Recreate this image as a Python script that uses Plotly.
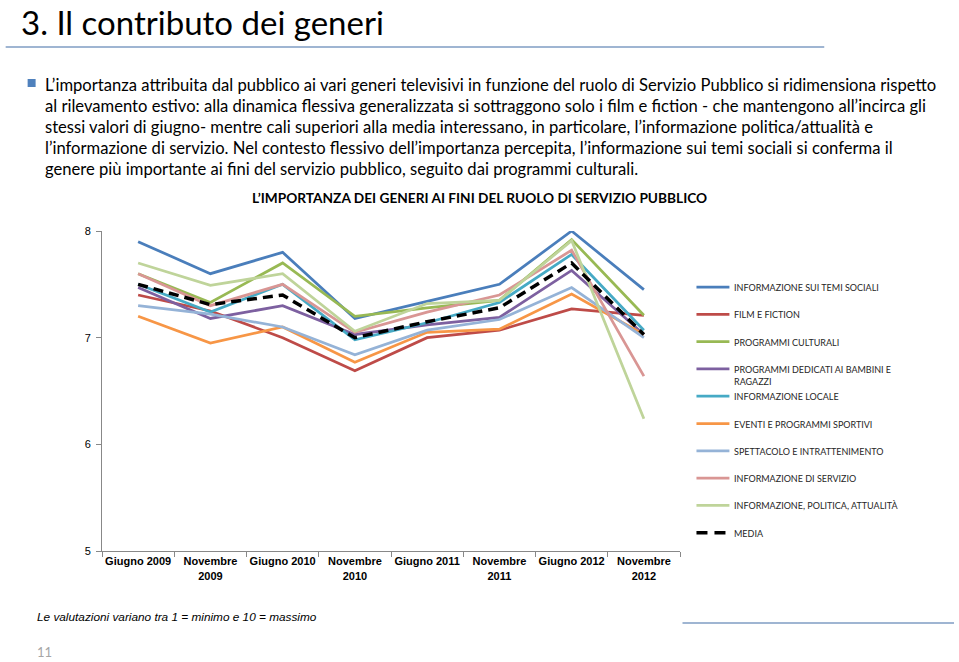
import plotly.graph_objects as go

W, H = 959, 662
PL, PR, PT, PB = 101.5, 680.5, 231, 551

categories = ["Giugno 2009", "Novembre<br>2009", "Giugno 2010", "Novembre<br>2010",
              "Giugno 2011", "Novembre<br>2011", "Giugno 2012", "Novembre<br>2012"]

temi_sociali = [7.90, 7.60, 7.80, 7.18, 7.34, 7.50, 8.00, 7.45]
film_fiction = [7.40, 7.25, 7.00, 6.69, 7.00, 7.07, 7.27, 7.21]
culturali = [7.60, 7.33, 7.70, 7.20, 7.28, 7.35, 7.92, 7.21]
bambini = [7.47, 7.18, 7.30, 7.03, 7.12, 7.19, 7.63, 7.03]
locale = [7.50, 7.24, 7.50, 6.98, 7.14, 7.33, 7.78, 7.07]
sportivi = [7.20, 6.95, 7.10, 6.77, 7.05, 7.08, 7.41, 7.03]
spettacolo = [7.30, 7.22, 7.10, 6.84, 7.07, 7.17, 7.47, 7.00]
servizio = [7.60, 7.30, 7.50, 7.05, 7.24, 7.40, 7.82, 6.64]
politica = [7.70, 7.49, 7.60, 7.06, 7.32, 7.35, 7.91, 6.24]
media = [7.50, 7.31, 7.40, 7.00, 7.15, 7.28, 7.70, 7.03]

series_names = ["INFORMAZIONE SUI TEMI SOCIALI", "FILM E FICTION", "PROGRAMMI CULTURALI",
                "PROGRAMMI DEDICATI AI BAMBINI E<br>RAGAZZI", "INFORMAZIONE LOCALE",
                "EVENTI E PROGRAMMI SPORTIVI", "SPETTACOLO E INTRATTENIMENTO",
                "INFORMAZIONE DI SERVIZIO", "INFORMAZIONE, POLITICA, ATTUALITÀ", "MEDIA"]
series_values = [temi_sociali, film_fiction, culturali, bambini, locale,
                 sportivi, spettacolo, servizio, politica, media]
colors = ["#4A7EBB", "#BE4B48", "#98B954", "#7D60A0", "#46AAC5",
          "#F79646", "#95B3D7", "#D99694", "#BFD49A", "#000000"]

y_ticks = [5, 6, 7, 8]

paragraph = [
    "L’importanza attribuita dal pubblico ai vari generi televisivi in funzione del ruolo di Servizio Pubblico si ridimensiona rispetto",
    "al rilevamento estivo: alla dinamica flessiva generalizzata si sottraggono solo i film e fiction - che mantengono all’incirca gli",
    "stessi valori di giugno- mentre cali superiori alla media interessano, in particolare, l’informazione politica/attualità e",
    "l’informazione di servizio. Nel contesto flessivo dell’importanza percepita, l’informazione sui temi sociali si conferma il",
    "genere più importante ai fini del servizio pubblico, seguito dai programmi culturali.",
]


def px(x):
    return (x - PL) / (PR - PL)


def py(y):
    return (PB - y) / (PB - PT)


fig = go.Figure()
for name, vals, col in zip(series_names, series_values, colors):
    is_media = name == "MEDIA"
    fig.add_trace(go.Scatter(
        x=categories, y=vals, mode="lines", name=name.replace("<br>", " "),
        line=dict(color=col, width=3.5 if is_media else 2.75,
                  dash="10px,6px" if is_media else "solid"),
        showlegend=False,
    ))

shapes = []
annotations = []

# manual legend
leg_y0, leg_dy = 287, 27.3
for i, (name, col) in enumerate(zip(series_names, colors)):
    yy = leg_y0 + i * leg_dy
    if name == "MEDIA":
        shapes.append(dict(type="line", xref="paper", yref="paper",
                           x0=px(697), x1=px(730), y0=py(yy), y1=py(yy),
                           line=dict(color=col, width=3.5, dash="11px,7px")))
    else:
        shapes.append(dict(type="line", xref="paper", yref="paper",
                           x0=px(697), x1=px(730), y0=py(yy), y1=py(yy),
                           line=dict(color=col, width=2.75)))
    annotations.append(dict(xref="paper", yref="paper", x=px(733), y=py(yy - 7),
                            xanchor="left", yanchor="top", align="left",
                            text=name, showarrow=False,
                            font=dict(family="Lato", size=9, color="#262626")))

# page title
annotations.append(dict(xref="paper", yref="paper", x=px(19), y=py(0.5),
                        xanchor="left", yanchor="top", text="3. Il contributo dei generi",
                        showarrow=False, borderpad=0,
                        font=dict(family="Lato", size=33, color="#000000")))
shapes.append(dict(type="line", xref="paper", yref="paper", x0=px(5), x1=px(825),
                   y0=py(47), y1=py(47), line=dict(color="#7F9DC3", width=1.5)))
shapes.append(dict(type="line", xref="paper", yref="paper", x0=px(683), x1=px(955),
                   y0=py(623), y1=py(623), line=dict(color="#7F9DC3", width=1.5)))
# bullet
shapes.append(dict(type="rect", xref="paper", yref="paper", x0=px(27), x1=px(35),
                   y0=py(87), y1=py(79), line=dict(width=0), fillcolor="#4F81BD"))

para_y = [85, 106, 127, 148, 169]
for line, yy in zip(paragraph, para_y):
    annotations.append(dict(xref="paper", yref="paper", x=px(42), y=py(yy),
                            xanchor="left", yanchor="middle", text=line, showarrow=False,
                            font=dict(family="Lato", size=16.6, color="#000000")))

annotations.append(dict(xref="paper", yref="paper", x=px(480), y=py(197),
                        xanchor="center", yanchor="middle",
                        text="<b>L’IMPORTANZA DEI GENERI AI FINI DEL RUOLO DI SERVIZIO PUBBLICO</b>",
                        showarrow=False, font=dict(family="Lato", size=13.7, color="#000000")))

annotations.append(dict(xref="paper", yref="paper", x=px(34), y=py(617),
                        xanchor="left", yanchor="middle",
                        text="<i>Le valutazioni variano tra 1 = minimo e 10 = massimo</i>",
                        showarrow=False, font=dict(family="Liberation Sans", size=11.8, color="#000000")))
annotations.append(dict(xref="paper", yref="paper", x=px(34), y=py(652),
                        xanchor="left", yanchor="middle", text="11", showarrow=False,
                        font=dict(family="Lato", size=13, color="#A6A6A6")))

fig.update_layout(
    width=W, height=H,
    margin=dict(l=PL, r=W - PR, t=PT, b=H - PB, pad=0),
    paper_bgcolor="white", plot_bgcolor="white",
    shapes=shapes, annotations=annotations,
    xaxis=dict(type="category", showgrid=False, zeroline=False, showline=True,
               linecolor="#888888", linewidth=1, ticks="outside", ticklen=5,
               tickcolor="#888888", tickson="boundaries", tickangle=0,
               tickfont=dict(family="Liberation Sans", size=11, color="#000000"),
               range=[-0.5, 7.5]),
    yaxis=dict(range=[5, 8], tickvals=y_ticks, showgrid=False, zeroline=False,
               showline=True, linecolor="#888888", linewidth=1, ticks="outside",
               ticklen=5, tickcolor="#888888", ticklabelstandoff=3,
               tickfont=dict(family="Liberation Sans", size=11, color="#000000")),
    showlegend=False,
)
fig.update_xaxes(tickprefix="<b>", ticksuffix="</b>")

fig.write_html("out.html")
